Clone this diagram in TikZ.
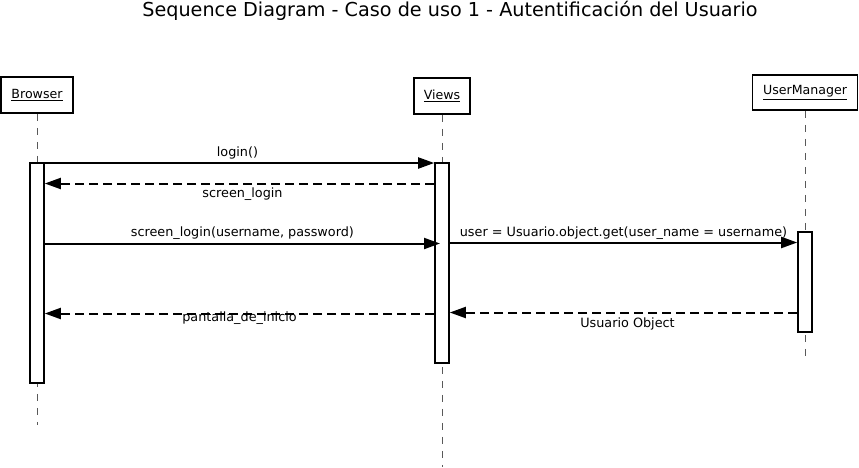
\documentclass[tikz,border=0pt]{standalone}
\usepackage{fontspec}
\setmainfont{DejaVu Sans}
\usetikzlibrary{arrows.meta, positioning, calc}
\tikzset{
    lifebox/.style={draw, rectangle, line width=1.8pt, fill=white, font=\fontsize{12.6}{15}\selectfont, inner sep=2pt},
    actbar/.style={draw, rectangle, line width=1.6pt, fill=white, minimum width=14pt, inner sep=0pt},
    lifeline/.style={draw=black!65, line width=1pt, dash pattern=on 7pt off 7pt},
    callarrow/.style={-{Triangle[length=16pt, width=11pt]}, line width=2pt},
    retarrow/.style={callarrow, dash pattern=on 9pt off 5pt},
    msglabel/.style={font=\fontsize{12.8}{15}\selectfont, inner sep=1pt},
}
\begin{document}
\begin{tikzpicture}[x=1pt, y=-1pt]
    \useasboundingbox (0,0) rectangle (859,467);

    % Title
    \node[font=\fontsize{19.2}{23}\selectfont] (title) at (450,11) {Sequence Diagram - Caso de uso 1 - Autentificación del Usuario};

    % Objects
    \node[lifebox, minimum width=72pt, minimum height=36pt] (browser) at (37,95) {\underline{Browser}};
    \node[lifebox, minimum width=56pt, minimum height=36pt] (views) at (442,96) {\underline{Views}};
    \node[lifebox, minimum width=105pt, minimum height=35pt] (usermgr) at (805,92.5) {\underline{UserManager}};

    % Lifeline ends
    \coordinate (bEnd) at (37,425);
    \coordinate (vEnd) at (442,467);
    \coordinate (uEnd) at (805,357);

    \draw[lifeline] (browser) -- (bEnd);
    \draw[lifeline] (views) -- (vEnd);
    \draw[lifeline] (usermgr) -- (uEnd);

    % Activation bars
    \node[actbar, minimum height=220pt] (bBar) at (37,273) {};
    \node[actbar, minimum height=200pt] (vBar) at (442,263) {};
    \node[actbar, minimum height=100pt] (uBar) at (805,282) {};

    % Message heights
    \coordinate (m1) at (0,163);
    \coordinate (m2) at (0,183.5);
    \coordinate (m3) at (0,243.5);
    \coordinate (m4) at (0,242.5);
    \coordinate (m5) at (0,312.5);
    \coordinate (m6) at (0,313.5);
    \coordinate (m3tip) at (440,243.5);

    % Messages
    \draw[callarrow] (bBar.east |- m1) -- node[msglabel, above=2pt, xshift=-2pt] {login()} (vBar.west |- m1);
    \draw[retarrow] (vBar.west |- m2) -- node[msglabel, below=2pt, xshift=3pt] {screen\_login} (bBar.east |- m2);
    \draw[callarrow] (bBar.east |- m3) -- node[msglabel, above=2pt] {screen\_login(username, password)} (m3tip);
    \draw[callarrow] (vBar.east |- m4) -- node[msglabel, above=1pt] {user = Usuario.object.get(user\_name = username)} (uBar.west |- m4);
    \draw[retarrow] (uBar.west |- m5) -- node[msglabel, below=3pt, xshift=4pt] {Usuario Object} (vBar.east |- m5);
    \draw[retarrow] (vBar.west |- m6) -- node[msglabel, yshift=-5pt] {pantalla\_de\_inicio} (bBar.east |- m6);
\end{tikzpicture}
\end{document}
